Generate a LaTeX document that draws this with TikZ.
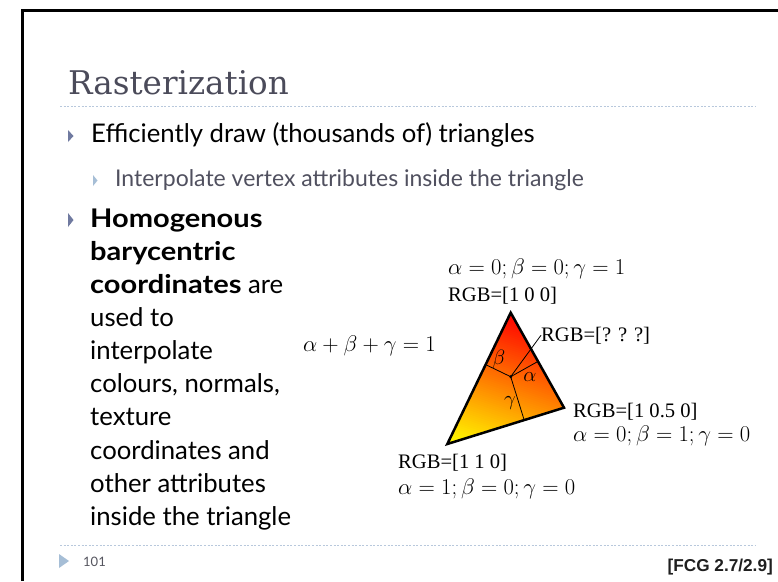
\documentclass[tikz,border=0pt]{standalone}
\usepackage[no-math]{fontspec}
\newfontfamily\bodyfont{Lato}
\newfontfamily\titlefont{DejaVu Serif}
\newfontfamily\rgbfont{Liberation Serif}
\newfontfamily\arialfont{Liberation Sans}
\usetikzlibrary{calc}
\definecolor{titlegray}{RGB}{75,75,90}
\definecolor{subgray}{RGB}{80,80,95}
\definecolor{bulletdark}{RGB}{112,122,160}
\definecolor{bulletlight}{RGB}{166,190,214}
\definecolor{dotcol}{RGB}{184,200,220}
\definecolor{pagegray}{RGB}{85,85,95}
\newcommand{\bigmath}[1]{\scalebox{1.09}{\fontsize{20.74}{25}\selectfont$#1$}}
\newcommand{\wbold}[1]{\scalebox{1.13}[1]{\bfseries #1}}
\tikzset{
  body/.style={anchor=base west, inner sep=0, font=\bodyfont\fontsize{25.7}{30}\selectfont},
  subtext/.style={anchor=base west, inner sep=0, text=subgray, font=\bodyfont\fontsize{23}{27}\selectfont},
  mathlbl/.style={anchor=base west, inner sep=0},
  rgblbl/.style={anchor=base west, inner sep=0, font=\rgbfont\fontsize{20.6}{24}\selectfont},
  greek/.style={inner sep=0, font=\fontsize{20.74}{25}\selectfont},
  dotline/.style={dotcol, line width=1pt, dash pattern=on 2pt off 1.6pt},
  thinline/.style={line width=0.8pt, black},
}
\begin{document}
\begin{tikzpicture}[x=1pt, y=-1pt]
\useasboundingbox (0,0) rectangle (778,581);
\fill[white] (0,0) rectangle (778,581);
% frame
\draw[line width=3pt, line join=miter] (22,581) -- (22,10.5) -- (778,10.5);
% title
\node[anchor=base west, inner sep=0, text=titlegray, font=\titlefont\fontsize{32.6}{36}\selectfont] (title) at (68,94) {Rasterization};
\draw[dotline] (60,106) -- (755,106);
% bullet 1
\fill[bulletdark] (68,130) -- (73.5,136) -- (68,142) -- cycle;
\node[body] (b1) at (91,142) {Efficiently draw (thousands of) triangles};
\fill[bulletlight] (93,175) -- (97.5,180.5) -- (93,186) -- cycle;
\node[subtext] (s1) at (115,186) {Interpolate vertex attributes inside the triangle};
% bullet 2
\fill[bulletdark] (68,213) -- (73.5,220) -- (68,227) -- cycle;
\node[body] (l1) at (90,227.3) {\wbold{Homogenous}};
\node[body] (l2) at (90,260.4) {\wbold{barycentric}};
\node[body] (l3) at (90,293.5) {\wbold{coordinates} are};
\node[body] (l4) at (90,326.6) {used to};
\node[body] (l5) at (90,359.7) {interpolate};
\node[body] (l6) at (90,392.8) {colours, normals,};
\node[body] (l7) at (90,425.9) {texture};
\node[body] (l8) at (90,459) {coordinates and};
\node[body] (l9) at (90,492.1) {other attributes};
\node[body] (l10) at (90,525.2) {inside the triangle};
% footer
\draw[dotline] (60,545) -- (755,545);
\fill[bulletlight] (59,554) -- (69,561) -- (59,568) -- cycle;
\node[anchor=base west, inner sep=0, text=pagegray, font=\bodyfont\fontsize{13}{15}\selectfont] (page) at (83,566) {101};
\node[anchor=base east, inner sep=0, text=black!88, font=\arialfont\bfseries\fontsize{17.2}{20}\selectfont] (ref) at (773,571) {[FCG 2.7/2.9]};
% triangle
\coordinate (T) at (510.7,312.7);
\coordinate (R) at (564,407.7);
\coordinate (L) at (447.3,444);
\coordinate (P) at (510.7,376.7);
\begin{scope}
\clip (T) -- (R) -- (L) -- cycle;
\foreach \i in {0,...,72} {
  \pgfmathsetmacro\g{min(\i/72,1)}
  \pgfmathsetmacro\d{\i*144.8/72-1}
  \definecolor{stripc}{rgb}{1,\g,0}
  \fill[stripc] ({510.7-0.3262*\d-0.9451*200},{312.7+0.9451*\d-0.3262*200}) -- ({510.7-0.3262*\d+0.9451*200},{312.7+0.9451*\d+0.3262*200}) -- ({510.7-0.3262*250+0.9451*200},{312.7+0.9451*250+0.3262*200}) -- ({510.7-0.3262*250-0.9451*200},{312.7+0.9451*250-0.3262*200}) -- cycle;
}
\end{scope}
\coordinate (fb) at ($(L)!(P)!(T)$);
\coordinate (fa) at ($(T)!(P)!(R)$);
\coordinate (fg) at ($(L)!(P)!(R)$);
\draw[thinline] (P) -- (fb);
\draw[thinline] (P) -- (fa);
\draw[thinline] (P) -- (fg);
\draw[line width=2.5pt, line join=miter] (T) -- (R) -- (L) -- cycle;
\fill (P) circle (1.6);
% labels
\node[greek] (gb) at (499,359) {$\beta$};
\node[greek] (ga) at (530,377) {$\alpha$};
\node[greek] (gg) at (510,403) {$\gamma$};
\node[mathlbl] (topm) at (448,274) {\bigmath{\alpha=0;\beta=0;\gamma=1}};
\node[rgblbl] (topr) at (448,301) {RGB=[1 0 0]};
\node[rgblbl] (q) at (541,341) {RGB=[? ? ?]};
\draw[thinline] (P) -- (q.west);
\node[mathlbl] (sum) at (303,351) {\bigmath{\alpha+\beta+\gamma=1}};
\node[rgblbl] (rr) at (573,417) {RGB=[1 0.5 0]};
\node[mathlbl] (rm) at (573,441) {\bigmath{\alpha=0;\beta=1;\gamma=0}};
\node[rgblbl] (lr) at (398,468) {RGB=[1 1 0]};
\node[mathlbl] (lm) at (398,494) {\bigmath{\alpha=1;\beta=0;\gamma=0}};
\end{tikzpicture}
\end{document}
